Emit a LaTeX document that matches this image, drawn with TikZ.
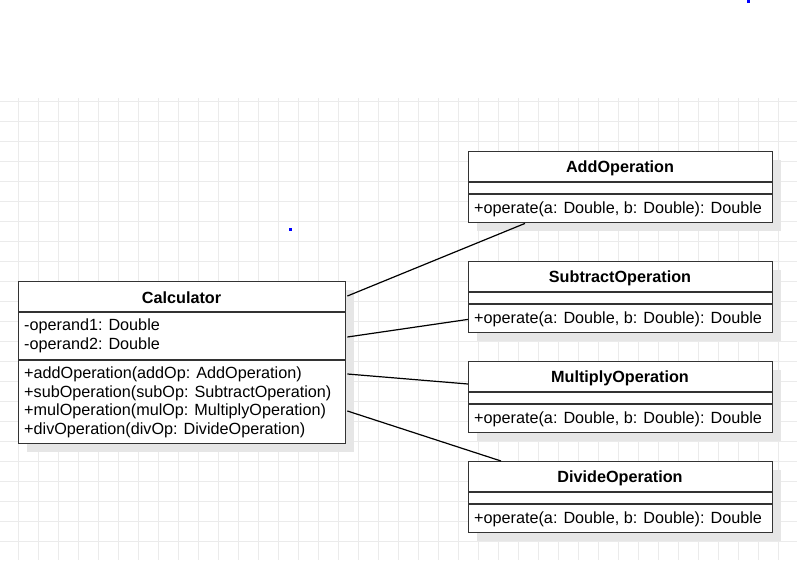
\documentclass[tikz,border=0pt]{standalone}
\usepackage{fontspec}
\setmainfont{Liberation Sans}
\usetikzlibrary{calc,shadows}
\definecolor{gridc}{HTML}{EBEBEB}
\definecolor{boxc}{HTML}{333333}
\definecolor{shadc}{HTML}{E6E6E6}
\definecolor{dotc}{HTML}{0000FF}
\tikzset{
  classbox/.style={draw=boxc, fill=white, line width=1.4pt, anchor=north west, inner sep=0pt,
    minimum width=#1, drop shadow={shadow xshift=8pt, shadow yshift=-8pt, fill=shadc, opacity=1}},
  sep/.style={draw=boxc, line width=1.4pt},
  hdr/.style={font=\fontsize{16.2}{19}\selectfont\bfseries, inner sep=0pt, anchor=center},
  mem/.style={font=\fontsize{16.2}{18.8}\selectfont, inner sep=0pt, anchor=west, align=left},
  conn/.style={draw=black, line width=1.2pt},
  bluedot/.style={fill=dotc, draw=none}
}
\begin{document}
\begin{tikzpicture}[x=1pt,y=-1pt]
\useasboundingbox (0,0) rectangle (797,560);
\fill[white] (0,0) rectangle (797,560);
% grid
\foreach \gx in {18,38,...,798} \draw[gridc, line width=1pt] (\gx,98) -- (\gx,560);
\foreach \gy in {101,121,...,561} \draw[gridc, line width=1pt] (0,\gy) -- (797,\gy);
% blue dots
\fill[bluedot] (288.5,227.5) rectangle (291.5,230.5);
\fill[bluedot] (746.5,0) rectangle (749.5,2.5);

% Calculator
\node[classbox=327pt, minimum height=162pt] (calc) at (18,281) {};
\draw[sep] (18,312) -- (345,312);
\draw[sep] (18,360) -- (345,360);
\node[hdr] (calcT) at (181.5,298) {Calculator};
\node[mem] (calcA) at (24,335.5) {-operand1: Double\\-operand2: Double};
\node[mem] (calcM) at (24,402.3) {+addOperation(addOp: AddOperation)\\+subOperation(subOp: SubtractOperation)\\+mulOperation(mulOp: MultiplyOperation)\\+divOperation(divOp: DivideOperation)};

% AddOperation
\node[classbox=304pt, minimum height=71pt] (add) at (468,151) {};
\draw[sep] (468,182) -- (772,182);
\draw[sep] (468,194) -- (772,194);
\node[hdr] (addT) at (620,168) {AddOperation};
\node[mem] (addM) at (474,209.5) {+operate(a: Double, b: Double): Double};

% SubtractOperation
\node[classbox=304pt, minimum height=71pt] (sub) at (468,261) {};
\draw[sep] (468,292) -- (772,292);
\draw[sep] (468,304) -- (772,304);
\node[hdr] (subT) at (620,278) {SubtractOperation};
\node[mem] (subM) at (474,319.5) {+operate(a: Double, b: Double): Double};

% MultiplyOperation
\node[classbox=304pt, minimum height=71pt] (mul) at (468,361) {};
\draw[sep] (468,392) -- (772,392);
\draw[sep] (468,404) -- (772,404);
\node[hdr] (mulT) at (620,378) {MultiplyOperation};
\node[mem] (mulM) at (474,419.5) {+operate(a: Double, b: Double): Double};

% DivideOperation
\node[classbox=304pt, minimum height=71pt] (div) at (468,461) {};
\draw[sep] (468,492) -- (772,492);
\draw[sep] (468,504) -- (772,504);
\node[hdr] (divT) at (620,478) {DivideOperation};
\node[mem] (divM) at (474,519.5) {+operate(a: Double, b: Double): Double};

% connectors
\draw[conn] ($(calc.north east)+(1,15)$) -- ($(add.south west)+(57,0)$);
\draw[conn] ($(calc.north east)+(1,56)$) -- ($(sub.south west)+(0,-14)$);
\draw[conn] ($(calc.north east)+(1,93)$) -- ($(mul.north west)+(0,23)$);
\draw[conn] ($(calc.north east)+(1,130)$) -- ($(div.north west)+(33,0)$);
\end{tikzpicture}
\end{document}
